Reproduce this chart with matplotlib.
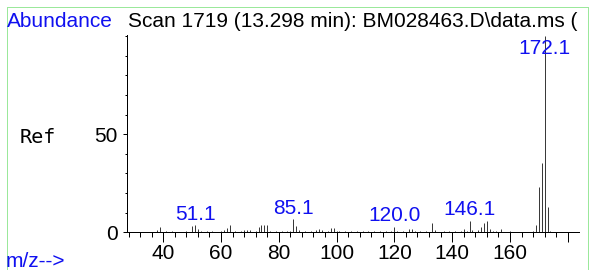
import matplotlib
matplotlib.use("Agg")
import matplotlib.pyplot as plt
from matplotlib.lines import Line2D
import numpy as np

# ---- data ----
mz = [38, 39, 41, 43, 48, 50, 51, 52, 53, 55, 57, 60, 61, 62, 63, 65, 67, 68, 69, 70,
      72, 73, 74, 75, 76, 77, 79, 81, 83, 84, 85, 86, 87, 89, 91, 93, 94, 95, 97, 98,
      99, 100, 101, 103, 105, 107, 109, 111, 113, 115, 117, 119, 120, 121, 123, 125,
      126, 127, 129, 131, 133, 134, 137, 139, 141, 143, 144, 145, 146, 147, 149, 150,
      151, 152, 153, 154, 155, 157, 160, 168, 169, 170, 171, 172, 173, 174]
abundance = [1.0, 2.5, 0.5, 0.5, 0.5, 3.4, 3.5, 1.5, 0.5, 0.5, 0.8, 0.8, 1.3, 2.2, 3.7,
             0.5, 0.5, 1.0, 1.2, 1.0, 0.5, 2.5, 3.5, 3.6, 3.6, 0.8, 0.5, 0.8, 0.5, 0.7,
             6.7, 3.0, 1.0, 0.5, 0.5, 1.0, 1.8, 1.0, 0.8, 2.0, 2.0, 0.8, 0.6, 0.5, 0.6,
             0.8, 0.6, 0.5, 0.6, 0.5, 0.6, 0.5, 2.8, 0.8, 0.5, 1.8, 1.8, 0.7, 0.5, 0.8,
             4.8, 1.2, 0.5, 0.5, 0.5, 0.6, 1.8, 0.8, 5.9, 1.2, 1.0, 2.9, 4.7, 5.9, 1.7,
             0.6, 0.6, 1.7, 0.5, 0.8, 3.7, 23.0, 35.2, 100.0, 12.8, 0.8]
label_mz = [51.1, 85.1, 120.0, 146.1, 172.1]
label_height = [3.5, 6.7, 2.8, 5.9, 100.0]
label_text = ["51.1", "85.1", "120.0", "146.1", "172.1"]
xtick_values = [40, 60, 80, 100, 120, 140, 160, 180]
xtick_labels = ["40", "60", "80", "100", "120", "140", "160", ""]
ytick_values = [0, 50]
ytick_labels = ["0", "50"]

W, H, DPI = 590, 270, 100
PX = 72.0 / DPI  # points per pixel
plt.rcParams['font.family'] = ['Liberation Sans', 'DejaVu Sans']

fig = plt.figure(figsize=(W / DPI, H / DPI), dpi=DPI)
fig.patch.set_facecolor('white')

ax_l, ax_r, ax_t, ax_b = 127, 579, 35, 232.3
ax = fig.add_axes([ax_l / W, (H - ax_b) / H, (ax_r - ax_l) / W, (ax_b - ax_t) / H])
ax.set_xlim(27.45, 183.9)
ax.set_ylim(0, 100.6)

ax.vlines(mz, 0, abundance, colors='#3a3a3a', linewidth=1.0 * PX)

fs = 15
blue = '#1010f0'
ymax = ax.get_ylim()[1]
for x, h, t in zip(label_mz, label_height, label_text):
    y = min(h, ymax - 12.5)
    ax.annotate(t, (x, y), xytext=(0, 5.5 * PX), textcoords='offset points',
                ha='center', va='baseline', color=blue, fontsize=fs)

for s in ['top', 'right']:
    ax.spines[s].set_visible(False)
for s in ['left', 'bottom']:
    ax.spines[s].set_linewidth(1.0 * PX)
    ax.spines[s].set_color('black')

ax.set_xticks(xtick_values)
ax.set_xticklabels(xtick_labels)
ax.set_xticks(np.arange(28, 184, 4), minor=True)
ax.set_yticks(ytick_values)
ax.set_yticklabels(ytick_labels)
ax.set_yticks(np.arange(10, 101, 10), minor=True)
ax.tick_params(axis='x', which='major', direction='out', length=10 * PX, width=1.0 * PX,
               labelsize=fs, pad=1.5)
ax.tick_params(axis='x', which='minor', direction='out', length=5 * PX, width=1.0 * PX)
ax.tick_params(axis='y', which='major', direction='out', length=4 * PX, width=1.0 * PX,
               labelsize=fs, pad=4)
ax.tick_params(axis='y', which='minor', direction='out', length=2 * PX, width=1.0 * PX)

# header / side texts
fig.text(6.7 / W, (H - 27.3) / H, "Abundance", color=blue, fontsize=fs, va='baseline', ha='left')
fig.text(127.7 / W, (H - 27.3) / H, "Scan 1719 (13.298 min): BM028463.D\\data.ms (",
         color='black', fontsize=fs, va='baseline', ha='left')
fig.text(20 / W, (H - 143.3) / H, "Ref", family='DejaVu Sans Mono', fontsize=14.5,
         va='baseline', ha='left', color='black')
fig.text(6 / W, (H - 266.7) / H, "m/z-->", color=blue, fontsize=fs, va='baseline', ha='left')

# light green frame
green = '#9be89b'
fig.add_artist(Line2D([6.5 / W, 6.5 / W], [-0.1, (H - 7) / H], color=green, lw=1.0 * PX))
fig.add_artist(Line2D([6.5 / W, 587.5 / W], [(H - 7) / H, (H - 7) / H], color=green, lw=1.0 * PX))
fig.add_artist(Line2D([587.5 / W, 587.5 / W], [-0.1, (H - 7) / H], color=green, lw=1.0 * PX))

fig.savefig('out.png', dpi=DPI)
